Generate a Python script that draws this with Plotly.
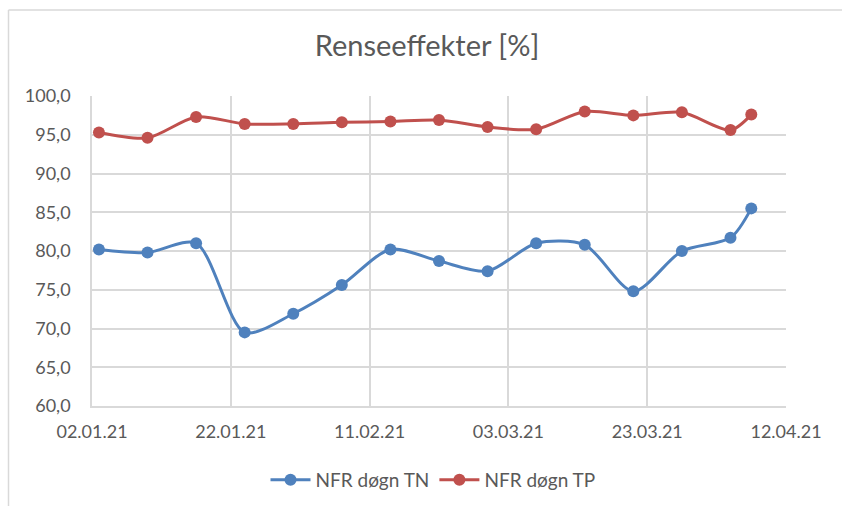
import plotly.graph_objects as go

dates = ["2021-01-03", "2021-01-10", "2021-01-17", "2021-01-24", "2021-01-31",
         "2021-02-07", "2021-02-14", "2021-02-21", "2021-02-28", "2021-03-07",
         "2021-03-14", "2021-03-21", "2021-03-28", "2021-04-04", "2021-04-07"]
tn = [80.2, 79.8, 81.0, 69.5, 71.9, 75.6, 80.2, 78.7, 77.4, 81.0, 80.8, 74.8, 80.0, 81.7, 85.5]
tp = [95.3, 94.6, 97.3, 96.4, 96.4, 96.6, 96.7, 96.9, 96.0, 95.7, 98.0, 97.5, 97.9, 95.6, 97.6]

series_names = ["NFR døgn TN", "NFR døgn TP"]
colors = ["#4F81BD", "#C0504D"]

FONT = "Lato, Carlito, Calibri, sans-serif"
W, H = 842, 506
L, R, T, B = 92, 56, 96, 100
pw, ph = W - L - R, H - T - B

fig = go.Figure()
for name, vals, c in zip(series_names, [tn, tp], colors):
    fig.add_trace(go.Scatter(
        x=dates, y=vals, name=name, mode="lines+markers",
        line=dict(color=c, width=3, shape="spline", smoothing=0.8),
        marker=dict(color=c, size=12),
    ))

def px_x(p):
    return (p - L) / pw

def px_y(p):
    return (H - B - p) / ph

fig.update_layout(
    width=W, height=H,
    margin=dict(l=L, r=R, t=T, b=B),
    paper_bgcolor="white", plot_bgcolor="white",
    separators=", ",
    font=dict(family=FONT, color="#595959", size=18),
    title=dict(text="Renseeffekter [%]", x=427 / W, xref="container", xanchor="center",
               y=1 - 46 / H, yref="container", yanchor="middle",
               font=dict(size=29, color="#595959", family=FONT)),
    xaxis=dict(type="date", range=["2021-01-02", "2021-04-12"],
               tick0="2021-01-02", dtick=20 * 86400000, tickformat="%d.%m.%y",
               showgrid=True, gridcolor="#D9D9D9", gridwidth=1.5,
               showline=True, linecolor="#D9D9D9", linewidth=1.5,
               ticks="", ticklabelstandoff=9, zeroline=False),
    yaxis=dict(range=[60, 100], dtick=5, tickformat=".1f",
               showgrid=True, gridcolor="#D9D9D9", gridwidth=1.5,
               showline=True, linecolor="#D9D9D9", linewidth=1.5,
               ticks="", ticklabelstandoff=16, zeroline=False),
    legend=dict(orientation="h", x=433 / W, xanchor="center", xref="container",
                y=1 - 480 / H, yref="container", yanchor="middle",
                font=dict(size=19, color="#595959"), itemwidth=40),
    showlegend=True,
)

fig.add_shape(type="line", xref="paper", yref="paper",
              x0=px_x(8.5), x1=px_x(W + 5), y0=px_y(10), y1=px_y(10),
              line=dict(color="#D9D9D9", width=1.5), layer="below")
fig.add_shape(type="line", xref="paper", yref="paper",
              x0=px_x(8.5), x1=px_x(8.5), y0=px_y(10), y1=px_y(H + 5),
              line=dict(color="#D9D9D9", width=1.5), layer="below")

fig.write_html("out.html", config={"displayModeBar": False},
               post_script="document.body.style.margin='0';document.body.style.padding='0';")
